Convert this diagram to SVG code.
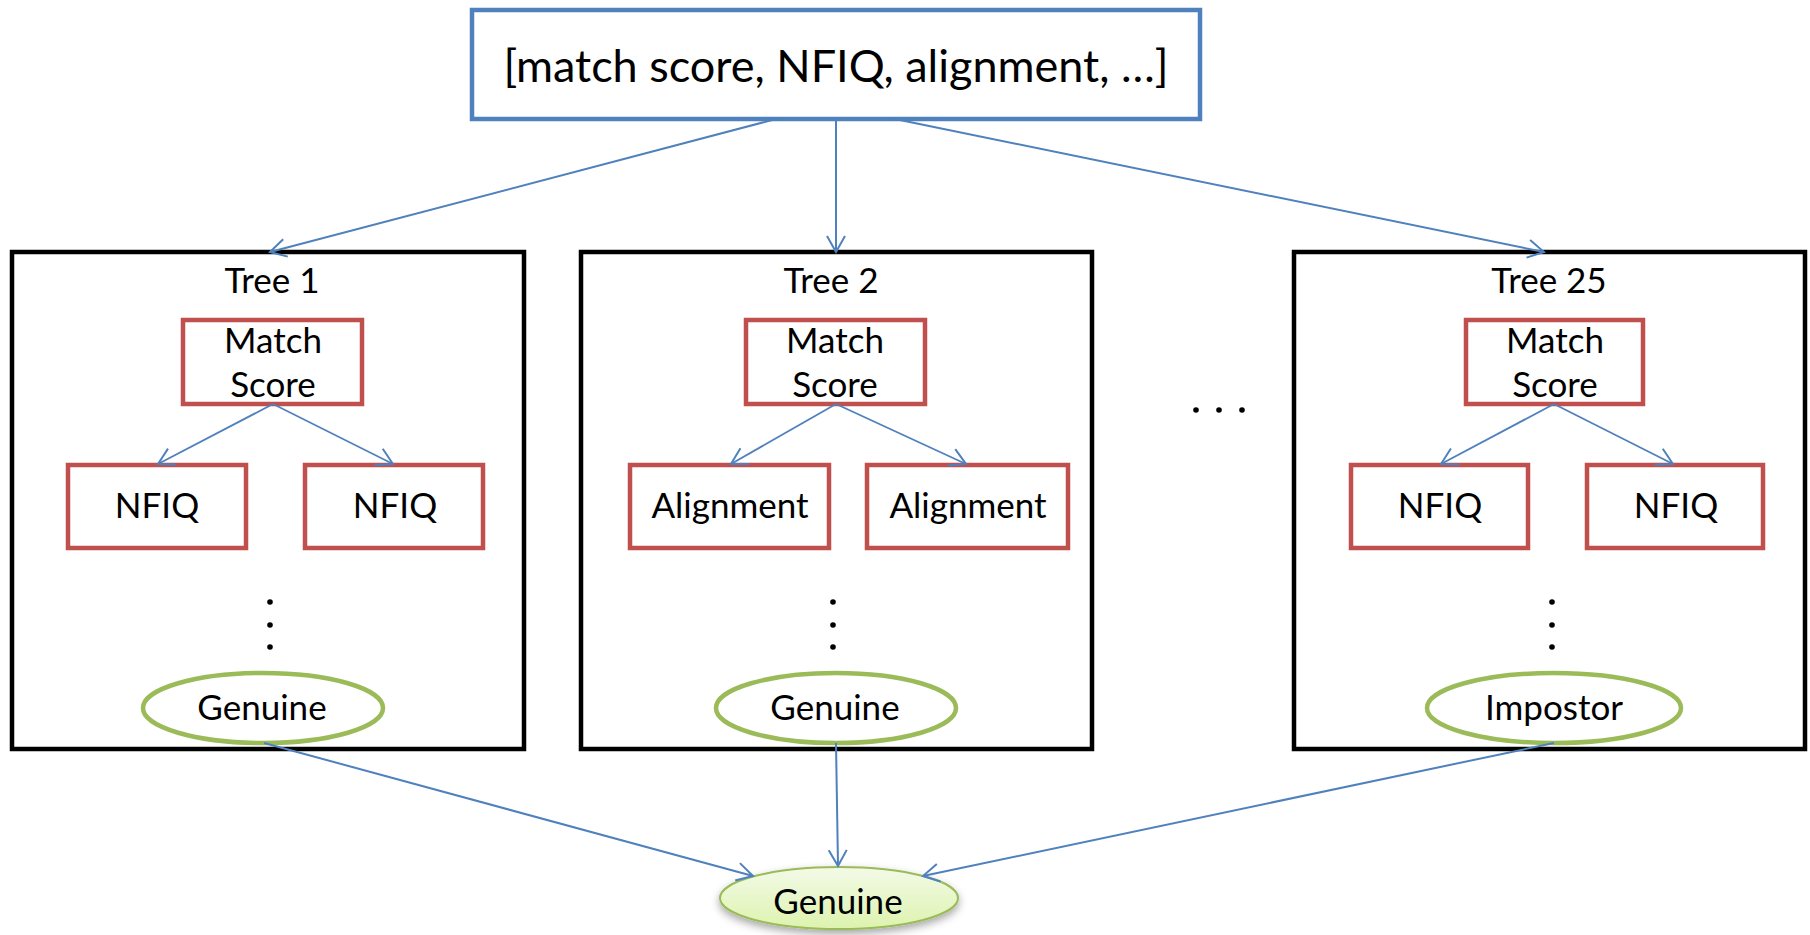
<svg xmlns="http://www.w3.org/2000/svg" width="1810" height="935" viewBox="0 0 1810 935">
<defs>
<style>
.t{font-family:Lato,"Liberation Sans",sans-serif;font-size:35px;fill:#000;text-anchor:middle}
.big{font-size:45px}
.tree{fill:#fff;stroke:#000;stroke-width:4.5}
.red{fill:#fff;stroke:#C0504D;stroke-width:4.5}
.leaf{fill:#fff;stroke:#9BBB59;stroke-width:4.5}
.top{fill:#fff;stroke:#4F81BD;stroke-width:4.5}
.c{fill:none;stroke:#4F81BD;stroke-width:2;marker-end:url(#ah)}
.ci{fill:none;stroke:#4F81BD;stroke-width:1.8;marker-end:url(#ah)}
.dot{fill:#000}
</style>
<marker id="ah" markerUnits="userSpaceOnUse" markerWidth="40" markerHeight="40" refX="20" refY="20" orient="auto" viewBox="0 0 40 40">
<path d="M4,11 L20,20 L4,29" fill="none" stroke="#4F81BD" stroke-width="2"/>
</marker>
<linearGradient id="gf" x1="0" y1="0" x2="0" y2="1">
<stop offset="0" stop-color="#F3FAE8"/>
<stop offset="1" stop-color="#DDF3AE"/>
</linearGradient>
<filter id="sh" x="-20%" y="-30%" width="140%" height="180%">
<feDropShadow dx="0" dy="4" stdDeviation="4" flood-color="#000" flood-opacity="0.35"/>
</filter>
</defs>

<g id="input">
<rect class="top" x="472" y="10" width="728" height="109"/>
<text class="t big" x="836" y="82">[match score, NFIQ, alignment, …]</text>
</g>

<g id="tree1">
<rect class="tree" x="12" y="252" width="512" height="497"/>
<text class="t" x="272" y="293">Tree 1</text>
<g id="tree1-root"><rect class="red" x="183" y="320" width="179" height="84"/>
<text class="t" x="273" y="353">Match</text><text class="t" x="273" y="397">Score</text></g>
<g id="tree1-l"><rect class="red" x="68" y="465" width="178" height="83"/><text class="t" x="157" y="518">NFIQ</text></g>
<g id="tree1-r"><rect class="red" x="305" y="465" width="178" height="83"/><text class="t" x="395" y="518">NFIQ</text></g>
<circle class="dot" cx="270" cy="602" r="2.8"/><circle class="dot" cx="270" cy="625" r="2.8"/><circle class="dot" cx="270" cy="647" r="2.8"/>
<g id="tree1-leaf"><ellipse class="leaf" cx="263" cy="708" rx="120" ry="35"/><text class="t" x="262" y="720">Genuine</text></g>
</g>

<g id="tree2">
<rect class="tree" x="581" y="252" width="511" height="497"/>
<text class="t" x="831" y="293">Tree 2</text>
<g id="tree2-root"><rect class="red" x="746" y="320" width="179" height="84"/>
<text class="t" x="835" y="353">Match</text><text class="t" x="835" y="397">Score</text></g>
<g id="tree2-l"><rect class="red" x="630" y="465" width="199" height="83"/><text class="t" x="730" y="518">Alignment</text></g>
<g id="tree2-r"><rect class="red" x="867" y="465" width="201" height="83"/><text class="t" x="968" y="518">Alignment</text></g>
<circle class="dot" cx="833" cy="602" r="2.8"/><circle class="dot" cx="833" cy="625" r="2.8"/><circle class="dot" cx="833" cy="647" r="2.8"/>
<g id="tree2-leaf"><ellipse class="leaf" cx="836" cy="708" rx="120" ry="35"/><text class="t" x="835" y="720">Genuine</text></g>
</g>

<g id="ellipsis">
<circle class="dot" cx="1196" cy="410" r="2.8"/><circle class="dot" cx="1219" cy="410" r="2.8"/><circle class="dot" cx="1242" cy="410" r="2.8"/>
</g>

<g id="tree25">
<rect class="tree" x="1294" y="252" width="511" height="497"/>
<text class="t" x="1549" y="293">Tree 25</text>
<g id="tree25-root"><rect class="red" x="1466" y="320" width="177" height="84"/>
<text class="t" x="1555" y="353">Match</text><text class="t" x="1555" y="397">Score</text></g>
<g id="tree25-l"><rect class="red" x="1351" y="465" width="177" height="83"/><text class="t" x="1440" y="518">NFIQ</text></g>
<g id="tree25-r"><rect class="red" x="1587" y="465" width="176" height="83"/><text class="t" x="1676" y="518">NFIQ</text></g>
<circle class="dot" cx="1552" cy="602" r="2.8"/><circle class="dot" cx="1552" cy="625" r="2.8"/><circle class="dot" cx="1552" cy="647" r="2.8"/>
<g id="tree25-leaf"><ellipse class="leaf" cx="1554" cy="708" rx="127" ry="35"/><text class="t" x="1554" y="720">Impostor</text></g>
</g>

<g id="output">
<ellipse cx="839" cy="898" rx="119" ry="31" fill="url(#gf)" stroke="#9BBB59" stroke-width="2" filter="url(#sh)"/>
<text class="t" x="838" y="914">Genuine</text>
</g>

<g id="connectors">
<line class="c" x1="776" y1="119" x2="270" y2="252"/>
<line class="c" x1="836" y1="119" x2="836" y2="252"/>
<line class="c" x1="895" y1="119" x2="1544" y2="252"/>
<line class="ci" x1="273" y1="404" x2="158" y2="464"/>
<line class="ci" x1="273" y1="404" x2="393" y2="464"/>
<line class="ci" x1="836" y1="404" x2="731" y2="464"/>
<line class="ci" x1="836" y1="404" x2="966" y2="464"/>
<line class="ci" x1="1554" y1="404" x2="1441" y2="464"/>
<line class="ci" x1="1554" y1="404" x2="1673" y2="464"/>
<line class="c" x1="264" y1="743" x2="753" y2="876"/>
<line class="c" x1="836" y1="743" x2="838" y2="866"/>
<line class="c" x1="1554" y1="743" x2="923" y2="876"/>
</g>
</svg>
